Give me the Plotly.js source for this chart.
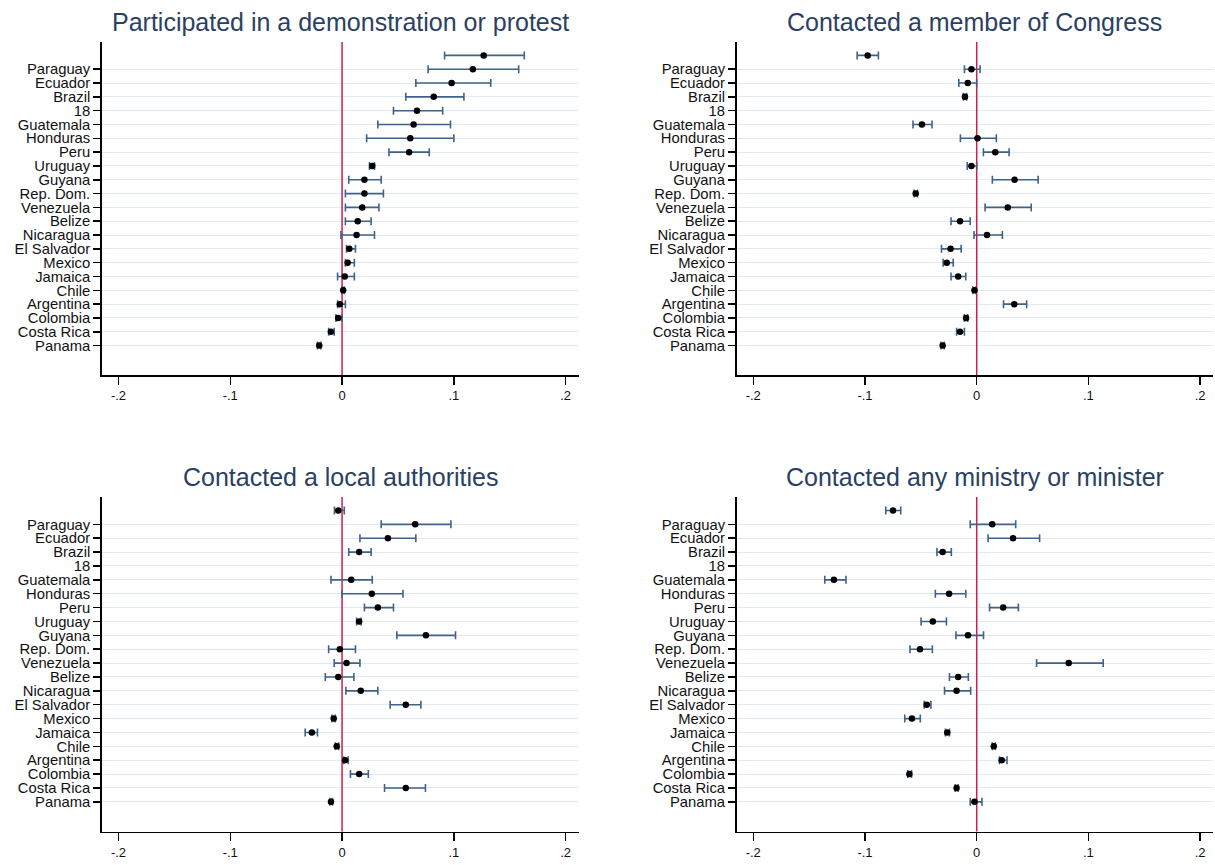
<!DOCTYPE html>
<html>
<head>
<meta charset="utf-8">
<script src="https://cdn.plot.ly/plotly-3.0.1.min.js"></script>
<style>html,body{margin:0;padding:0;background:#fff;}#chart{width:1215px;height:865px;}</style>
</head>
<body>
<div id="chart"></div>
<script>
// Row labels (first row has no label)
const rowLabels = ["", "Paraguay", "Ecuador", "Brazil", "18", "Guatemala", "Honduras", "Peru", "Uruguay", "Guyana", "Rep. Dom.", "Venezuela", "Belize", "Nicaragua", "El Salvador", "Mexico", "Jamaica", "Chile", "Argentina", "Colombia", "Costa Rica", "Panama"];

const panelTitles = ["Participated in a demonstration or protest", "Contacted a member of Congress", "Contacted a local authorities", "Contacted any ministry or minister"];

const xTickVals = [-0.2, -0.1, 0, 0.1, 0.2];
const xTickText = ["-.2", "-.1", "0", ".1", ".2"];

// Panel 1: demonstration / protest
const protestCoef = [0.1267, 0.117, 0.098, 0.082, 0.067, 0.064, 0.061, 0.060, 0.027, 0.020, 0.020, 0.018, 0.014, 0.013, 0.0065, 0.005, 0.0024, 0.001, -0.002, -0.0034, -0.010, -0.0204];
const protestLo   = [0.0917, 0.077, 0.066, 0.057, 0.046, 0.032, 0.022, 0.042, 0.0245, 0.006, 0.003, 0.003, 0.003, -0.001, 0.004, 0.003, -0.004, 0.0, -0.004, -0.0055, -0.012, -0.022];
const protestHi   = [0.163, 0.158, 0.133, 0.109, 0.090, 0.097, 0.100, 0.078, 0.029, 0.035, 0.037, 0.033, 0.026, 0.029, 0.012, 0.011, 0.011, 0.002, 0.003, 0.0, -0.007, -0.019];

// Panel 2: member of Congress
const congressCoef = [-0.0976, -0.0047, -0.008, -0.0105, null, -0.049, 0.0007, 0.0166, -0.0047, 0.0339, -0.0546, 0.0278, -0.0149, 0.0092, -0.0234, -0.0268, -0.0166, -0.002, 0.0336, -0.0095, -0.0149, -0.0305];
const congressLo   = [-0.107, -0.011, -0.016, -0.012, null, -0.057, -0.0146, 0.006, -0.0085, 0.014, -0.056, 0.0075, -0.023, -0.0024, -0.0315, -0.030, -0.023, -0.0034, 0.024, -0.011, -0.018, -0.032];
const congressHi   = [-0.088, 0.003, 0.0, -0.009, null, -0.040, 0.0176, 0.029, 0.0, 0.055, -0.053, 0.0488, -0.0058, 0.023, -0.0139, -0.021, -0.0098, -0.0007, 0.0447, -0.008, -0.011, -0.029];

// Panel 3: local authorities
const localCoef = [-0.0034, 0.0654, 0.041, 0.0153, null, 0.0082, 0.0266, 0.032, 0.0153, 0.075, -0.002, 0.004, -0.0034, 0.0167, 0.057, -0.0075, -0.027, -0.0048, 0.0027, 0.0153, 0.057, -0.0099];
const localLo   = [-0.0068, 0.035, 0.016, 0.006, null, -0.0099, 0.0, 0.020, 0.013, 0.049, -0.012, -0.007, -0.015, 0.0034, 0.043, -0.009, -0.033, -0.006, 0.0014, 0.0075, 0.038, -0.011];
const localHi   = [0.002, 0.0974, 0.066, 0.026, null, 0.027, 0.0545, 0.046, 0.017, 0.1015, 0.012, 0.016, 0.0106, 0.032, 0.0705, -0.006, -0.022, -0.003, 0.0055, 0.0235, 0.0746, -0.0085];

// Panel 4: ministry or minister
const ministryCoef = [-0.0749, 0.0139, 0.0325, -0.0305, null, -0.1278, -0.0247, 0.0237, -0.0393, -0.0078, -0.0508, 0.0824, -0.0166, -0.018, -0.0447, -0.058, -0.0264, 0.0153, 0.0224, -0.0603, -0.018, -0.002];
const ministryLo   = [-0.0814, -0.0058, 0.0102, -0.0356, null, -0.136, -0.037, 0.0115, -0.0498, -0.0186, -0.0597, 0.0536, -0.0244, -0.0288, -0.047, -0.0644, -0.028, 0.0139, 0.0203, -0.0617, -0.0193, -0.0058];
const ministryHi   = [-0.068, 0.0349, 0.0563, -0.0227, null, -0.117, -0.0098, 0.0373, -0.0271, 0.0061, -0.0397, 0.1132, -0.0075, -0.0054, -0.041, -0.0505, -0.0244, 0.0166, 0.0271, -0.0583, -0.0166, 0.0047];

const panels = [
  {coef: protestCoef, lo: protestLo, hi: protestHi},
  {coef: congressCoef, lo: congressLo, hi: congressHi},
  {coef: localCoef, lo: localLo, hi: localHi},
  {coef: ministryCoef, lo: ministryLo, hi: ministryHi}
];

const W = 1215, H = 865;
// plot-area pixel boxes [left, right, top, bottom]
const boxes = [
  [101.7, 578.5, 42, 375.3],
  [736.5, 1213, 42, 375.3],
  [101.7, 578.5, 497, 831.7],
  [736.5, 1213, 497, 831.7]
];

const FONT = "Liberation Sans, Arial, sans-serif";
const CI_COLOR = "#3e6289";
const TITLE_COLOR = "#2a3f63";

const rowIdx = rowLabels.map((_, i) => i);
const tickRows = rowIdx.filter(i => rowLabels[i] !== "");
const tickRowText = tickRows.map(i => rowLabels[i]);

const traces = [];
const layout = {
  width: W, height: H,
  margin: {l: 0, r: 0, t: 0, b: 0},
  paper_bgcolor: "#fff", plot_bgcolor: "#fff",
  showlegend: false,
  font: {family: FONT, color: "#000"},
  shapes: [], annotations: []
};

panels.forEach((p, k) => {
  const n = k + 1;
  const xa = n === 1 ? "x" : "x" + n;
  const ya = n === 1 ? "y" : "y" + n;
  const b = boxes[k];
  // red reference line at zero (drawn as a trace so it sits under the markers)
  traces.push({
    type: "scatter", mode: "lines",
    x: [0, 0], y: [23.15, -0.97],
    xaxis: xa, yaxis: ya,
    line: {color: "#d11c4b", width: 1.5},
    hoverinfo: "skip"
  });
  traces.push({
    type: "scatter", mode: "markers",
    x: p.coef, y: rowIdx,
    xaxis: xa, yaxis: ya,
    marker: {color: "#000", size: 6.5, symbol: "circle"},
    error_x: {
      type: "data", symmetric: false,
      array: p.coef.map((c, i) => c === null ? null : p.hi[i] - c),
      arrayminus: p.coef.map((c, i) => c === null ? null : c - p.lo[i]),
      color: CI_COLOR, thickness: 1.6, width: 4
    },
    hoverinfo: "skip"
  });
  layout["xaxis" + (n === 1 ? "" : n)] = {
    domain: [b[0] / W, b[1] / W],
    anchor: ya,
    range: [-0.215, 0.2115],
    tickvals: xTickVals, ticktext: xTickText,
    ticks: "outside", ticklen: 8, tickwidth: 1.5, tickcolor: "#000",
    showline: true, linecolor: "#000", linewidth: 1.5,
    showgrid: false, zeroline: false,
    tickfont: {family: FONT, size: 13, color: "#111"}
  };
  layout["yaxis" + (n === 1 ? "" : n)] = {
    domain: [1 - b[3] / H, 1 - b[2] / H],
    anchor: xa,
    range: [23.15, -0.97],
    tickvals: tickRows, ticktext: tickRowText,
    ticks: "outside", ticklen: 7, tickwidth: 1.5, tickcolor: "#000",
    showline: true, linecolor: "#000", linewidth: 1.5,
    showgrid: true, gridcolor: "#e3eaef", gridwidth: 1,
    zeroline: false,
    tickfont: {family: FONT, size: 14.8, color: "#111"}
  };
  layout.annotations.push({
    text: panelTitles[k],
    xref: "paper", yref: "paper",
    x: (b[0] + b[1]) / 2 / W,
    y: 1 - (b[2] - 20) / H,
    xanchor: "center", yanchor: "middle",
    showarrow: false,
    font: {family: FONT, size: 25, color: TITLE_COLOR}
  });
});

Plotly.newPlot("chart", traces, layout, {staticPlot: true});
</script>
</body>
</html>
